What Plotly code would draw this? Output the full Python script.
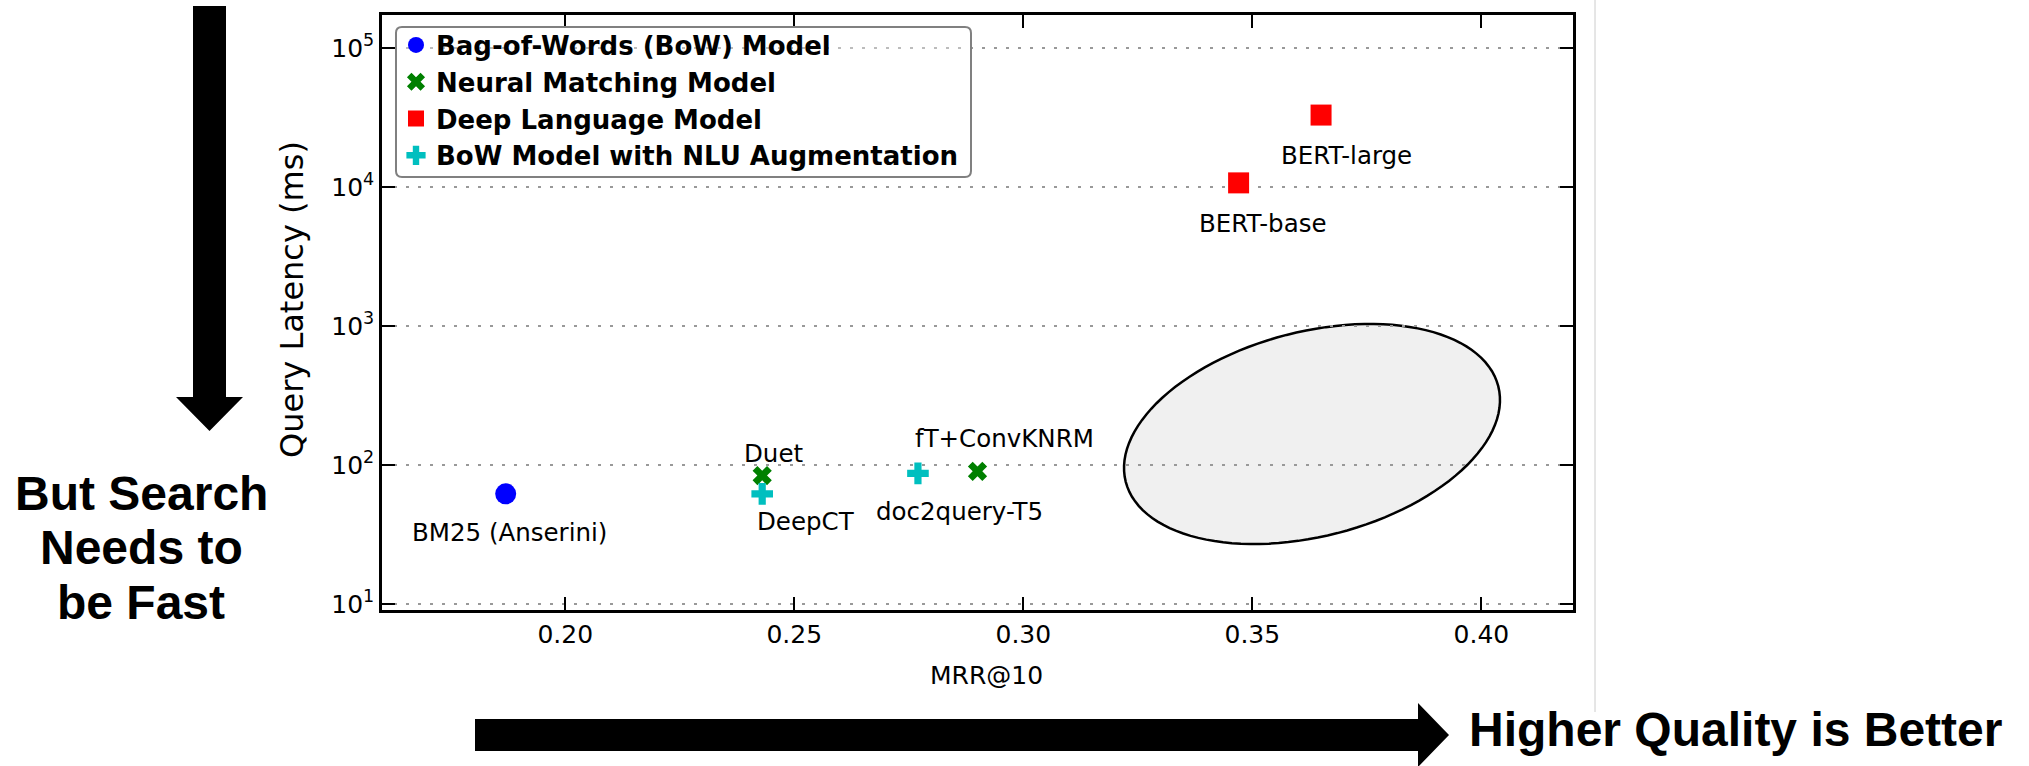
import numpy as np
import plotly.graph_objects as go

# ---------------- data ----------------
bow_names = ["BM25 (Anserini)"]
bow_mrr = [0.187]
bow_lat = [62]

nm_names = ["Duet", "fT+ConvKNRM"]
nm_mrr = [0.243, 0.290]
nm_lat = [84, 90]

dlm_names = ["BERT-base", "BERT-large"]
dlm_mrr = [0.347, 0.365]
dlm_lat = [10700, 32900]

nlu_names = ["DeepCT", "doc2query-T5"]
nlu_mrr = [0.243, 0.277]
nlu_lat = [62, 87]

series_labels = ["Bag-of-Words (BoW) Model", "Neural Matching Model",
                 "Deep Language Model", "BoW Model with NLU Augmentation"]

x_ticks = [0.20, 0.25, 0.30, 0.35, 0.40]
y_ticks = [10, 100, 1000, 10000, 100000]
y_ticktext = ["10<sup>1</sup>", "10<sup>2</sup>", "10<sup>3</sup>", "10<sup>4</sup>", "10<sup>5</sup>"]

# label offsets (pixels) relative to each point
label_shift = {
    "BM25 (Anserini)": (4, -39),
    "Duet": (11, 22),
    "fT+ConvKNRM": (27, 33),
    "BERT-base": (24, -41),
    "BERT-large": (25, -40),
    "DeepCT": (44, -28),
    "doc2query-T5": (42, -38),
}

# ---------------- layout geometry ----------------
W, H = 2029, 766
L, R, T, B = 382, 1573, 15, 610
PW, PH = R - L, B - T


def px(x):
    return (x - L) / PW


def py(y):
    return (B - y) / PH


def pt(u, v):
    return f"{px(u):.5f},{py(v):.5f}"


FONT = "DejaVu Sans"
fig = go.Figure()

specs = [
    (bow_names, bow_mrr, bow_lat, "#0000ff", "circle", 21),
    (nm_names, nm_mrr, nm_lat, "#008000", "x", 17),
    (dlm_names, dlm_mrr, dlm_lat, "#ff0000", "square", 21),
    (nlu_names, nlu_mrr, nlu_lat, "#00bfbf", "cross", 18),
]
for (names, xs, ys, col, sym, sz), lab in zip(specs, series_labels):
    fig.add_trace(go.Scatter(
        x=xs, y=ys, mode="markers", name=lab, text=names,
        marker=dict(color=col, symbol=sym, size=sz, line=dict(width=0)),
    ))
    for n, xv, yv in zip(names, xs, ys):
        dx, dy = label_shift[n]
        fig.add_annotation(x=xv, y=np.log10(yv), xref="x", yref="y", text=n,
                           showarrow=False, xshift=dx, yshift=dy,
                           font=dict(family=FONT, size=24.5, color="black"))

# ellipse (highlight region)
a, b, th = 192.3, 102.3, np.deg2rad(14.4)
cx, cy = 1312, 434
t = np.linspace(0, 2 * np.pi, 121)
ex = cx + a * np.cos(t) * np.cos(th) - b * np.sin(t) * np.sin(th)
ey = cy - (a * np.cos(t) * np.sin(th) + b * np.sin(t) * np.cos(th))
path = "M " + " L ".join(pt(u, v) for u, v in zip(ex, ey)) + " Z"
fig.add_shape(type="path", path=path, xref="paper", yref="paper",
              fillcolor="#f0f0f0", line=dict(color="black", width=2.5), layer="below")

# legend frame (rounded, semi-transparent)
x0, x1, y0, y1, rr = 396, 971, 27, 177, 6
frame = (f"M {pt(x0 + rr, y0)} L {pt(x1 - rr, y0)} Q {pt(x1, y0)} {pt(x1, y0 + rr)} "
         f"L {pt(x1, y1 - rr)} Q {pt(x1, y1)} {pt(x1 - rr, y1)} "
         f"L {pt(x0 + rr, y1)} Q {pt(x0, y1)} {pt(x0, y1 - rr)} "
         f"L {pt(x0, y0 + rr)} Q {pt(x0, y0)} {pt(x0 + rr, y0)} Z")
fig.add_shape(type="path", path=frame, xref="paper", yref="paper",
              fillcolor="rgba(255,255,255,0.35)", line=dict(color="#808080", width=2), layer="above")

# left (down) arrow
la = [(193, 6), (226, 6), (226, 397), (243, 397), (209.5, 431), (176, 397), (193, 397)]
fig.add_shape(type="path", xref="paper", yref="paper", fillcolor="black", line=dict(width=0),
              path="M " + " L ".join(pt(u, v) for u, v in la) + " Z")
# bottom (right) arrow
ba = [(475, 719), (1418, 719), (1418, 703), (1449, 735), (1418, 767), (1418, 751), (475, 751)]
fig.add_shape(type="path", xref="paper", yref="paper", fillcolor="black", line=dict(width=0),
              path="M " + " L ".join(pt(u, v) for u, v in ba) + " Z")
# thin vertical separator line
fig.add_shape(type="line", xref="paper", yref="paper", x0=px(1595), x1=px(1595),
              y0=py(0), y1=py(712), line=dict(color="#cccccc", width=1))

# side texts
for txt, yy in [("But Search", 493), ("Needs to", 547), ("be Fast", 602)]:
    fig.add_annotation(x=px(141), y=py(yy), xref="paper", yref="paper", text=txt,
                       showarrow=False, xanchor="center", yanchor="middle",
                       font=dict(family="Liberation Sans", size=48, color="black", weight="bold"))
fig.add_annotation(x=px(1467), y=py(729), xref="paper", yref="paper",
                   text="Higher Quality is Better", showarrow=False,
                   xanchor="left", yanchor="middle",
                   font=dict(family="Liberation Sans", size=48, color="black", weight="bold"))

# axis titles
fig.add_annotation(x=px(292), y=py(300), xref="paper", yref="paper", text="Query Latency (ms)",
                   textangle=-90, showarrow=False, xanchor="center", yanchor="middle",
                   font=dict(family=FONT, size=32, color="black"))
fig.add_annotation(x=px(986), y=py(675), xref="paper", yref="paper", text="MRR@10",
                   showarrow=False, xanchor="center", yanchor="middle",
                   font=dict(family=FONT, size=25, color="black"))

fig.update_layout(
    width=W, height=H, autosize=False,
    margin=dict(l=L, r=W - R, t=T, b=H - B),
    paper_bgcolor="white", plot_bgcolor="rgba(0,0,0,0)",
    showlegend=True,
    legend=dict(x=px(396), y=py(21.5), xanchor="left", yanchor="top",
                bgcolor="rgba(0,0,0,0)", borderwidth=0,
                font=dict(family=FONT, size=26, color="black", weight="bold"),
                itemsizing="trace"),
    xaxis=dict(range=[0.16, 0.42], tickvals=x_ticks, ticktext=[f"{v:.2f}" for v in x_ticks],
               showgrid=False, zeroline=False, showline=True, linecolor="black", linewidth=2.5,
               mirror="ticks", ticks="inside", ticklen=13, tickwidth=2, tickcolor="black",
               tickfont=dict(family=FONT, size=25, color="black")),
    yaxis=dict(type="log", range=[0.957, 5.237], tickvals=y_ticks, ticktext=y_ticktext,
               showgrid=True, gridcolor="#999999", gridwidth=2, griddash="3px,9px",
               zeroline=False, showline=True, linecolor="black", linewidth=2.5,
               mirror="ticks", ticks="inside", ticklen=13, tickwidth=2, tickcolor="black",
               tickfont=dict(family=FONT, size=25, color="black")),
)

fig.write_html("out.html")
